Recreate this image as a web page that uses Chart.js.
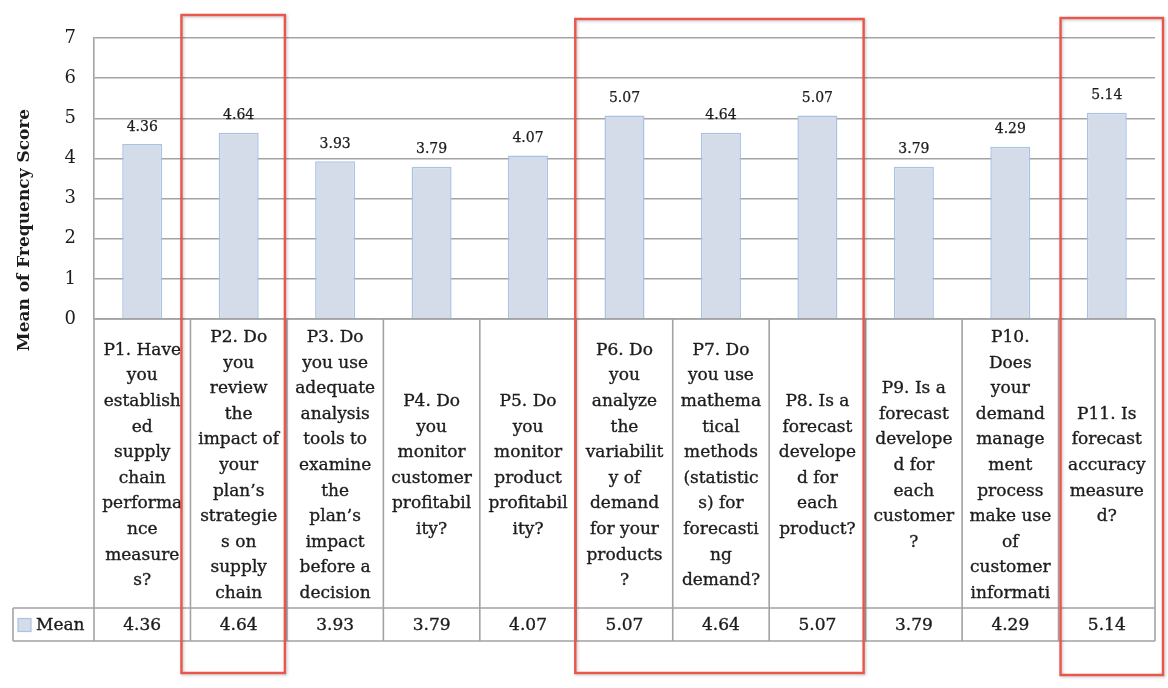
<!DOCTYPE html>
<html>
<head>
<meta charset="utf-8">
<script src="https://cdn.jsdelivr.net/npm/chart.js@4.4.1/dist/chart.umd.min.js"></script>
<style>
  html, body { margin: 0; padding: 0; background: #fff; }
  #wrap { width: 1168px; height: 688px; }
</style>
</head>
<body>
<div id="wrap"><canvas id="meanChart" width="1168" height="688"></canvas></div>
<script>
const categories = ['P1', 'P2', 'P3', 'P4', 'P5', 'P6', 'P7', 'P8', 'P9', 'P10', 'P11'];
const questionLines = [
  ['P1. Have', 'you', 'establish', 'ed', 'supply', 'chain', 'performa', 'nce', 'measure', 's?'],
  ['P2. Do', 'you', 'review', 'the', 'impact of', 'your', 'plan\u2019s', 'strategie', 's on', 'supply', 'chain'],
  ['P3. Do', 'you use', 'adequate', 'analysis', 'tools to', 'examine', 'the', 'plan\u2019s', 'impact', 'before a', 'decision'],
  ['P4. Do', 'you', 'monitor', 'customer', 'profitabil', 'ity?'],
  ['P5. Do', 'you', 'monitor', 'product', 'profitabil', 'ity?'],
  ['P6. Do', 'you', 'analyze', 'the', 'variabilit', 'y of', 'demand', 'for your', 'products', '?'],
  ['P7. Do', 'you use', 'mathema', 'tical', 'methods', '(statistic', 's) for', 'forecasti', 'ng', 'demand?'],
  ['P8. Is a', 'forecast', 'develope', 'd for', 'each', 'product?'],
  ['P9. Is a', 'forecast', 'develope', 'd for', 'each', 'customer', '?'],
  ['P10.', 'Does', 'your', 'demand', 'manage', 'ment', 'process', 'make use', 'of', 'customer', 'informati'],
  ['P11. Is', 'forecast', 'accuracy', 'measure', 'd?']
];
const meanScores = [4.36, 4.64, 3.93, 3.79, 4.07, 5.07, 4.64, 5.07, 3.79, 4.29, 5.14];
const yMin = 0;
const yMax = 7;
const seriesName = 'Mean';
const axisTitle = 'Mean of Frequency Score';

// red outlines drawn over groups of columns
const highlights = [
  { first: 1, last: 1, dl: -9, dr: -2, top: 15, bottom: 673 },
  { first: 5, last: 7, dl: -1, dr: -2, top: 19, bottom: 673 },
  { first: 10, last: 10, dl: 2, dr: 8, top: 18, bottom: 675 }
];

const serif = 'DejaVu Serif';
const ink = '#1c1c1c';
const lineGray = '#a3a3a3';
const barFill = '#d4dce9';
const barEdge = '#a9c3e5';

function colEdges(chart) {
  const x = chart.scales.x;
  const w = (x.right - x.left) / categories.length;
  return categories.map((c, i) => [x.left + i * w, x.left + (i + 1) * w]);
}

// fill plus a hairline stroke so the serif reads a little heavier
function inkText(ctx, t, x, y) {
  ctx.fillText(t, x, y);
  ctx.strokeText(t, x, y);
}

const tablePlugin = {
  id: 'dataTable',
  afterDraw(chart) {
    const ctx = chart.ctx;
    const area = chart.chartArea;
    const edges = colEdges(chart);
    const top = area.bottom;
    const rowSplit = top + 289;
    const bottom = rowSplit + 33;
    const keyLeft = 13;

    ctx.save();
    ctx.strokeStyle = lineGray;
    ctx.lineWidth = 1.6;
    ctx.beginPath();
    ctx.moveTo(area.left, top); ctx.lineTo(area.right, top);
    ctx.moveTo(keyLeft, rowSplit); ctx.lineTo(area.right, rowSplit);
    ctx.moveTo(keyLeft, bottom); ctx.lineTo(area.right, bottom);
    ctx.moveTo(keyLeft, rowSplit); ctx.lineTo(keyLeft, bottom);
    edges.forEach(([l, r], i) => {
      ctx.moveTo(l, top); ctx.lineTo(l, bottom);
      if (i === edges.length - 1) { ctx.moveTo(r, top); ctx.lineTo(r, bottom); }
    });
    ctx.stroke();

    // wrapped question text, centred in each cell
    ctx.fillStyle = ink;
    ctx.strokeStyle = ink;
    ctx.lineWidth = 0.35;
    ctx.textAlign = 'center';
    ctx.textBaseline = 'middle';
    ctx.font = '17px "' + serif + '"';
    const lh = 25.6;
    const mid = (top + rowSplit) / 2 + 2;
    questionLines.forEach((lines, i) => {
      const cx = (edges[i][0] + edges[i][1]) / 2;
      const y0 = mid - (lines.length - 1) * lh / 2;
      lines.forEach((t, k) => inkText(ctx, t, cx, y0 + k * lh));
    });

    // series row
    const rowMid = (rowSplit + bottom) / 2 + 1;
    meanScores.forEach((v, i) => {
      inkText(ctx, v.toFixed(2), (edges[i][0] + edges[i][1]) / 2, rowMid);
    });
    ctx.fillStyle = barFill;
    ctx.strokeStyle = barEdge;
    ctx.lineWidth = 1.2;
    ctx.fillRect(18, rowMid - 7, 13, 13);
    ctx.strokeRect(18, rowMid - 7, 13, 13);
    ctx.fillStyle = ink;
    ctx.strokeStyle = ink;
    ctx.lineWidth = 0.35;
    ctx.textAlign = 'left';
    inkText(ctx, seriesName, 36, rowMid);

    // axis title
    ctx.save();
    ctx.translate(25, 230);
    ctx.rotate(-Math.PI / 2);
    ctx.textAlign = 'center';
    ctx.font = 'bold 17px "' + serif + '"';
    ctx.fillText(axisTitle, 0, 0);
    ctx.restore();

    // red outlines
    ctx.strokeStyle = '#e9564b';
    ctx.lineWidth = 2.4;
    ctx.shadowColor = 'rgba(0,0,0,0.25)';
    ctx.shadowBlur = 3;
    ctx.shadowOffsetX = 1;
    ctx.shadowOffsetY = 1;
    highlights.forEach(h => {
      const l = edges[h.first][0] + h.dl;
      const r = edges[h.last][1] + h.dr;
      ctx.strokeRect(l, h.top, r - l, h.bottom - h.top);
    });
    ctx.restore();
  }
};

const valueLabels = {
  id: 'valueLabels',
  afterDatasetsDraw(chart) {
    const ctx = chart.ctx;
    const meta = chart.getDatasetMeta(0);
    ctx.save();
    ctx.fillStyle = ink;
    ctx.strokeStyle = ink;
    ctx.lineWidth = 0.25;
    ctx.font = '14px "' + serif + '"';
    ctx.textAlign = 'center';
    ctx.textBaseline = 'bottom';
    meta.data.forEach((bar, i) => {
      inkText(ctx, meanScores[i].toFixed(2), bar.x, bar.y - 10);
    });
    ctx.restore();
  }
};

new Chart(document.getElementById('meanChart'), {
  type: 'bar',
  data: {
    labels: categories,
    datasets: [{
      label: seriesName,
      data: meanScores,
      backgroundColor: barFill,
      borderColor: barEdge,
      borderWidth: 1.5,
      categoryPercentage: 1,
      barPercentage: 0.415
    }]
  },
  options: {
    responsive: false,
    animation: false,
    devicePixelRatio: 1,
    layout: { padding: { left: 0, right: 13, top: 38, bottom: 369 } },
    plugins: { legend: { display: false }, tooltip: { enabled: false } },
    scales: {
      x: {
        ticks: { display: false },
        grid: { display: false, drawTicks: false },
        border: { display: false },
        afterFit: s => { s.height = 0; }
      },
      y: {
        min: yMin,
        max: yMax,
        ticks: { stepSize: 1, padding: 18, color: ink, font: { family: serif, size: 18 } },
        grid: { color: lineGray, lineWidth: 1.4, drawTicks: false },
        border: { display: true, color: lineGray, width: 1.6 },
        afterFit: s => { s.width = 94; }
      }
    }
  },
  plugins: [valueLabels, tablePlugin]
});
</script>
</body>
</html>
